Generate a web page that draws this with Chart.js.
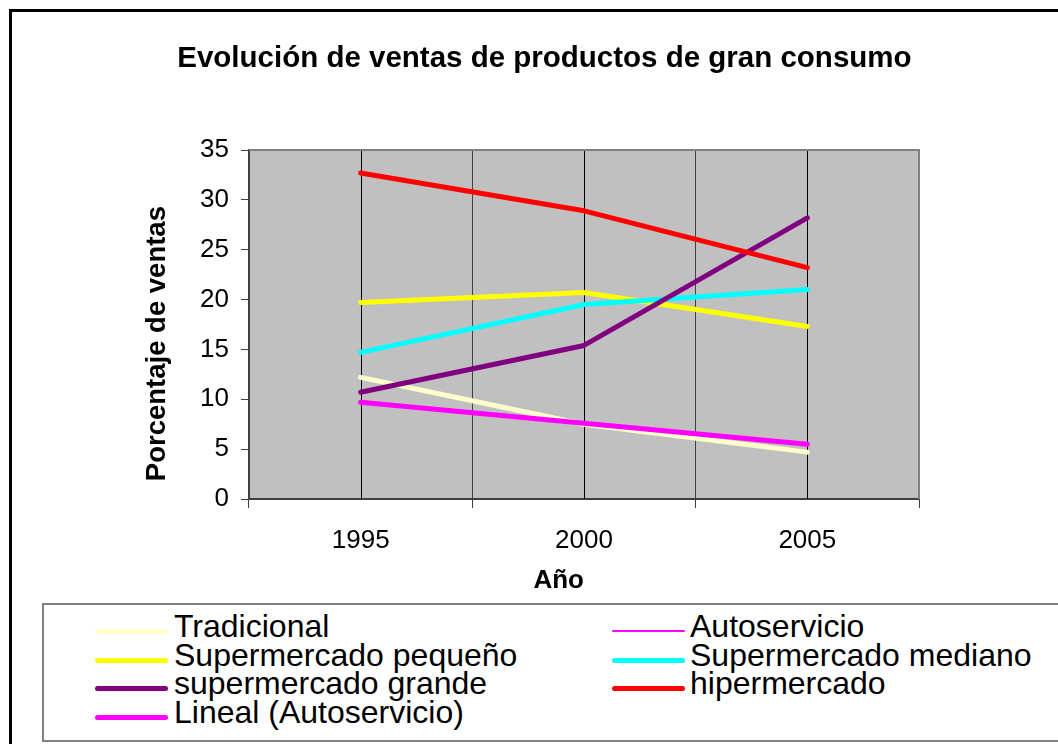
<!DOCTYPE html>
<html>
<head>
<meta charset="utf-8">
<script src="https://cdn.jsdelivr.net/npm/chart.js@4/dist/chart.umd.min.js"></script>
<style>
  body { margin: 0; background: #fff; width: 1058px; height: 744px; overflow: hidden; position: relative; font-family: "Liberation Sans", Arial, sans-serif; }
  #frame { position: absolute; left: 9px; top: 9px; width: 1100px; height: 800px; border: 3px solid #000; }
  #chart { position: absolute; left: 0; top: 0; }
  #legend { position: absolute; left: 42px; top: 603px; width: 1100px; height: 139px; border: 2px solid #808080; box-sizing: border-box; background: #fff; }
  .swatch { position: absolute; height: 5px; border-radius: 3px; }
  .lbl { position: absolute; font-size: 32px; line-height: 30px; color: #000; white-space: nowrap; }
</style>
</head>
<body>
<div id="frame"></div>
<canvas id="chart" width="1058" height="744"></canvas>
<div id="legend"></div>
<script>
const years = ['1995', '2000', '2005'];
const tradicional = [12.2, 7.5, 4.7];
const autoservicio = [9.7, 7.6, 5.5];
const superPequeno = [19.7, 20.7, 17.3];
const superMediano = [14.7, 19.5, 21.0];
const superGrande = [10.7, 15.4, 28.2];
const hipermercado = [32.7, 28.9, 23.2];
const linealAutoservicio = [9.7, 7.6, 5.5];

const FONT = '"Liberation Sans", Arial, sans-serif';

// legend order follows the original (left to right, row by row)
const series = [
  { label: 'Tradicional', data: tradicional, color: '#FFFFCC', width: 5, order: 6 },
  { label: 'Autoservicio', data: autoservicio, color: '#FF00FF', width: 2, order: 5 },
  { label: 'Supermercado pequeño', data: superPequeno, color: '#FFFF00', width: 5, order: 4 },
  { label: 'Supermercado mediano', data: superMediano, color: '#00FFFF', width: 5, order: 3 },
  { label: 'supermercado grande', data: superGrande, color: '#800080', width: 5, order: 2 },
  { label: 'hipermercado', data: hipermercado, color: '#FF0000', width: 5, order: 1 },
  { label: 'Lineal (Autoservicio)', data: linealAutoservicio, color: '#FF00FF', width: 5, order: 0 }
];

const plotBackground = {
  id: 'plotBackground',
  beforeDraw(chart) {
    const { ctx, chartArea: a } = chart;
    ctx.save();
    ctx.fillStyle = '#C0C0C0';
    ctx.fillRect(a.left, a.top, a.right - a.left, a.bottom - a.top);
    ctx.restore();
  },
  beforeDatasetsDraw(chart) {
    const { ctx, chartArea: a } = chart;
    const x = chart.scales.x;
    ctx.save();
    // lines through the category centres
    ctx.strokeStyle = '#000';
    ctx.lineWidth = 1;
    years.forEach((y, i) => {
      const px = Math.round(x.getPixelForValue(i)) + 0.5;
      ctx.beginPath();
      ctx.moveTo(px, a.top);
      ctx.lineTo(px, a.bottom);
      ctx.stroke();
    });
    // grey frame on top and right
    ctx.strokeStyle = '#808080';
    ctx.lineWidth = 2;
    ctx.beginPath();
    ctx.moveTo(a.left, a.top);
    ctx.lineTo(a.right, a.top);
    ctx.lineTo(a.right, a.bottom);
    ctx.stroke();
    ctx.restore();
  }
};

new Chart(document.getElementById('chart'), {
  type: 'line',
  data: {
    labels: years,
    datasets: series.map(s => ({
      label: s.label,
      data: s.data,
      borderColor: s.color,
      backgroundColor: s.color,
      borderWidth: s.width,
      borderCapStyle: 'round',
      borderJoinStyle: 'round',
      pointRadius: 0,
      tension: 0,
      order: s.order
    }))
  },
  options: {
    responsive: false,
    animation: false,
    devicePixelRatio: 1,
    layout: { padding: { left: 137, right: 139, top: 41, bottom: 144 } },
    plugins: {
      legend: { display: false },
      tooltip: { enabled: false },
      title: {
        display: true,
        text: '\u00a0\u00a0\u00a0\u00a0Evolución de ventas de productos de gran consumo',
        color: '#000',
        font: { family: FONT, size: 29.5, weight: 'bold' },
        padding: { top: 0, bottom: 73.6 }
      }
    },
    scales: {
      x: {
        offset: true,
        afterFit(scale) { scale.height = 101; },
        grid: { offset: true, color: '#404040', lineWidth: 1, tickLength: 9, tickColor: '#404040' },
        border: { color: '#404040', width: 2 },
        ticks: { color: '#000', font: { family: FONT, size: 26 }, padding: 17, maxRotation: 0 },
        title: {
          display: true,
          text: 'Año\u00a0\u00a0\u00a0\u00a0\u00a0\u00a0\u00a0',
          color: '#000',
          font: { family: FONT, size: 26, weight: 'bold' }
        }
      },
      y: {
        min: 0,
        max: 35,
        afterFit(scale) { scale.width = 112; },
        grid: { drawOnChartArea: false, tickLength: 8, tickColor: '#404040' },
        border: { color: '#404040', width: 2 },
        ticks: { stepSize: 5, color: '#000', font: { family: FONT, size: 26 }, padding: 12 },
        title: {
          display: true,
          text: 'Porcentaje de ventas\u00a0\u00a0\u00a0\u00a0\u00a0',
          color: '#000',
          font: { family: FONT, size: 27.5, weight: 'bold' }
        }
      }
    }
  },
  plugins: [plotBackground]
});

// legend box below the chart, two columns
const legend = document.getElementById('legend');
const rowY = [629, 658, 686, 715];
series.forEach((s, k) => {
  const col = k % 2, row = Math.floor(k / 2);
  const sw = document.createElement('div');
  sw.className = 'swatch';
  sw.style.left = (93 + col * 517 - 42) + 'px';
  sw.style.width = '73px';
  sw.style.height = s.width + 'px';
  sw.style.top = (rowY[row] - 603 - s.width / 2) + 'px';
  sw.style.background = s.color;
  legend.appendChild(sw);
  const t = document.createElement('div');
  t.className = 'lbl';
  t.textContent = s.label;
  t.style.left = (172 + col * 516 - 42) + 'px';
  t.style.top = (rowY[row] - 5 - 603 - 15) + 'px';
  legend.appendChild(t);
});
</script>
</body>
</html>
